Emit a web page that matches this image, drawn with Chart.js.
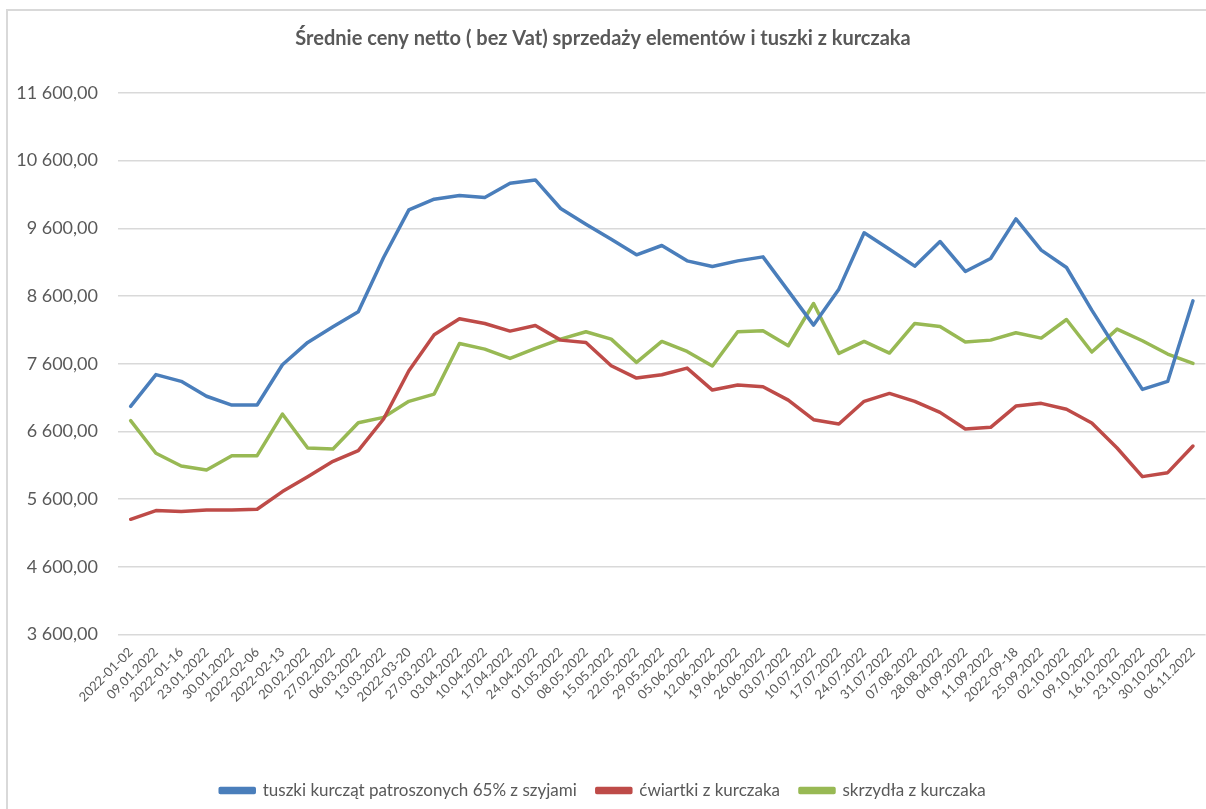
<!DOCTYPE html>
<html>
<head>
<meta charset="utf-8">
<script src="https://cdn.jsdelivr.net/npm/chart.js@4"></script>
<style>
  html, body { margin: 0; padding: 0; background: #fff; overflow: hidden; }
  #frame { position: absolute; left: 6px; top: 9px; width: 1230px; height: 830px; border: 2px solid #d9d9d9; }
  #wrap { position: absolute; left: 0; top: 0; width: 1206px; height: 809px; }
</style>
</head>
<body>
<div id="frame"></div>
<div id="wrap"><canvas id="canvas"></canvas></div>
<script>
let labels = [
  "2022-01-02", "09.01.2022", "2022-01-16", "23.01.2022", "30.01.2022", "2022-02-06",
  "2022-02-13", "20.02.2022", "27.02.2022", "06.03.2022", "13.03.2022", "2022-03-20",
  "27.03.2022", "03.04.2022", "10.04.2022", "17.04.2022", "24.04.2022", "01.05.2022",
  "08.05.2022", "15.05.2022", "22.05.2022", "29.05.2022", "05.06.2022", "12.06.2022",
  "19.06.2022", "26.06.2022", "03.07.2022", "10.07.2022", "17.07.2022", "24.07.2022",
  "31.07.2022", "07.08.2022", "28.08.2022", "04.09.2022", "11.09.2022", "2022-09-18",
  "25.09.2022", "02.10.2022", "09.10.2022", "16.10.2022", "23.10.2022", "30.10.2022",
  "06.11.2022"
];

let tuszki = [
  6970, 7440, 7340, 7120, 6990, 6990, 7585, 7915, 8146, 8368, 9169, 9873,
  10031, 10085, 10055, 10267, 10316, 9894, 9662, 9440, 9209, 9347, 9120, 9037,
  9120, 9179, 8677, 8171, 8702, 9534, 9292, 9042, 9406, 8963, 9155, 9740,
  9278, 9022, 8392, 7802, 7221, 7339, 8530
];

let cwiartki = [
  5302, 5430, 5416, 5440, 5440, 5450, 5711, 5932, 6158, 6316, 6784, 7497,
  8028, 8264, 8195, 8082, 8166, 7949, 7915, 7570, 7388, 7438, 7536, 7211,
  7285, 7261, 7063, 6774, 6709, 7045, 7162, 7045, 6881, 6635, 6660, 6975,
  7015, 6927, 6725, 6355, 5932, 5991, 6385
];

let skrzydla = [
  6759, 6277, 6090, 6031, 6242, 6242, 6857, 6355, 6340, 6729, 6808, 7045,
  7152, 7900, 7816, 7678, 7826, 7964, 8072, 7964, 7620, 7930, 7782, 7566,
  8072, 8087, 7866, 8490, 7753, 7930, 7758, 8195, 8151, 7920, 7949, 8058,
  7979, 8254, 7773, 8112, 7940, 7743, 7605
];

let yMin = 3600;
let yMax = 11600;
let yStep = 1000;

function fmt(v) {
  let s = v.toFixed(2).split(".");
  let intPart = s[0].replace(/\B(?=(\d{3})+(?!\d))/g, " ");
  return intPart + "," + s[1];
}

let grey = "#595959";
let font = "Lato, 'Open Sans', sans-serif";

let ctx = document.getElementById("canvas").getContext("2d");

let chart = new Chart(ctx, {
  type: "line",
  data: {
    labels: labels,
    datasets: [
      { label: "tuszki kurcząt patroszonych 65% z szyjami", data: tuszki, borderColor: "#4a7ebb", backgroundColor: "#4a7ebb" },
      { label: "ćwiartki z kurczaka", data: cwiartki, borderColor: "#be4b48", backgroundColor: "#be4b48" },
      { label: "skrzydła z kurczaka", data: skrzydla, borderColor: "#98b954", backgroundColor: "#98b954" },
    ],
  },
  options: {
    responsive: true,
    maintainAspectRatio: false,
    animation: false,
    elements: {
      line: { borderWidth: 3.5, tension: 0, borderCapStyle: "round", borderJoinStyle: "round" },
      point: { radius: 0 },
    },
    layout: {
      padding: { top: 10, left: 0, right: 0, bottom: 0 },
    },
    plugins: {
      title: {
        display: true,
        text: "Średnie ceny netto ( bez Vat) sprzedaży elementów i tuszki z kurczaka",
        color: grey,
        font: { family: font, size: 20, weight: "bold" },
        padding: { top: 17, bottom: 42 },
      },
      legend: {
        position: "bottom",
        labels: {
          color: grey,
          font: { family: font, size: 17 },
          boxWidth: 34,
          boxHeight: 4,
          padding: 20,
        },
      },
      tooltip: { enabled: false },
    },
    scales: {
      x: {
        offset: true,
        grid: { display: false },
        border: { display: false },
        ticks: {
          color: grey,
          font: { family: font, size: 13 },
          minRotation: 45,
          maxRotation: 45,
          autoSkip: false,
          padding: 2,
        },
        afterFit: (s) => { s.height += 55; },
      },
      y: {
        min: yMin,
        max: yMax,
        border: { display: false },
        grid: { color: "#d9d9d9", lineWidth: 1.5, drawTicks: false },
        ticks: {
          stepSize: yStep,
          color: grey,
          font: { family: font, size: 18 },
          padding: 20,
          callback: (v) => fmt(v),
        },
        afterFit: (s) => { s.width = 118; },
      },
    },
  },
});
</script>
</body>
</html>
